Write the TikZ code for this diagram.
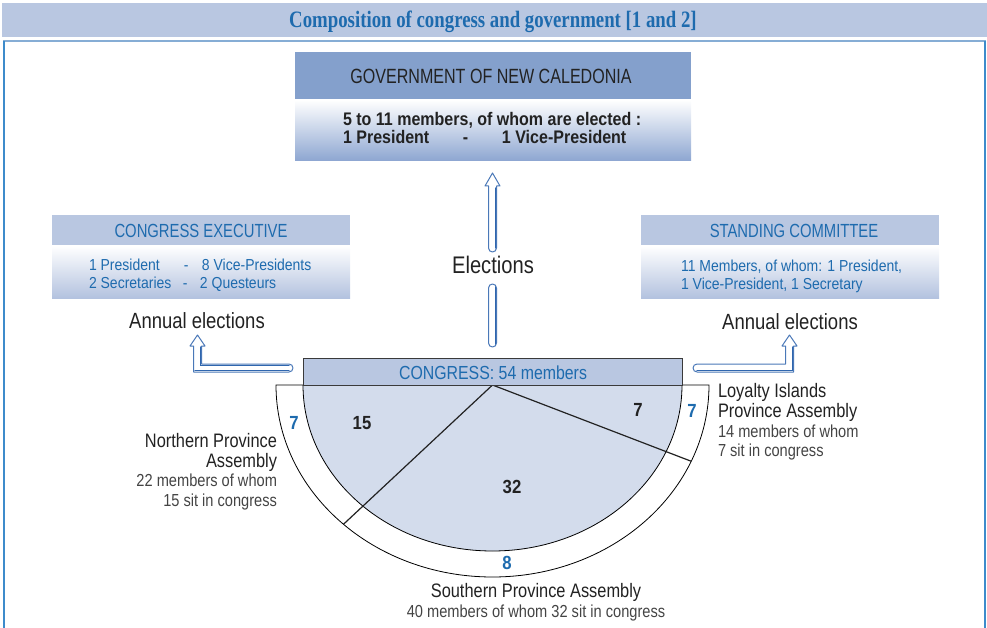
\documentclass[tikz,border=0pt]{standalone}
\usepackage{fontspec}
\setmainfont{Liberation Sans}
\newfontfamily\cnA{Liberation Sans}[FakeStretch=0.84]
\newfontfamily\cnB{Liberation Sans}[FakeStretch=0.78]
\newfontfamily\cnC{Liberation Sans}[FakeStretch=0.88]
\newfontfamily\cnT{Liberation Serif}[FakeStretch=0.8]
\usetikzlibrary{calc}
\newcommand\pxsize[1]{\fontsize{#1}{#1}\selectfont}

\definecolor{titlebar}{HTML}{B9C7E1}
\definecolor{govhead}{HTML}{84A0CC}
\definecolor{govbot}{HTML}{8DA6D1}
\definecolor{lightbar}{HTML}{B9C7E1}
\definecolor{execbot}{HTML}{B3C2DF}
\definecolor{innerfill}{HTML}{D3DCEC}
\definecolor{textblue}{HTML}{1E6BAE}
\definecolor{textdark}{HTML}{222222}
\definecolor{textgray}{HTML}{444444}
\definecolor{frameblue}{HTML}{3D8BCB}
\definecolor{frametop}{HTML}{86ADD5}
\definecolor{arrowline}{HTML}{4A78B8}
\definecolor{arrowdark}{HTML}{2F66AE}
\definecolor{bardark}{HTML}{3A3A3A}

\tikzset{
  txt/.style={inner sep=0pt, outer sep=0pt, text=textdark},
  headtxt/.style={txt, anchor=base, font=\cnB\pxsize{19}, text=textblue},
  bodytxt/.style={txt, anchor=base west, font=\cnC\pxsize{15.9}, text=textblue},
  bigtxt/.style={txt, font=\cnA\pxsize{22}},
  labtxt/.style={txt, font=\cnA\pxsize{19.5}},
  subtxt/.style={txt, font=\cnA\pxsize{17.4}, text=textgray},
  seatnum/.style={txt, anchor=base, font=\cnC\bfseries\pxsize{19}},
  ringnum/.style={seatnum, text=textblue},
  hollow/.style={fill=white, draw=arrowline, line width=1pt, line join=round},
  shadeline/.style={draw=arrowdark, line width=1.2pt, line cap=round},
  ringline/.style={draw=black, line width=0.8pt},
  spoke/.style={draw=textdark, line width=1.2pt},
  boxhead/.style={fill=lightbar, draw=none, inner sep=0pt, anchor=north west},
}

\begin{document}
\begin{tikzpicture}[x=1pt, y=1pt]
\useasboundingbox (0,-628) rectangle (987,0);

% title band and frame
\fill[titlebar] (2,-3) rectangle (987,-37);
\node[txt, anchor=base, font=\cnT\bfseries\pxsize{23.5}, text=textblue] (title) at (493,-28)
  {Composition of congress and government [1 and 2]};
\draw[frametop, line width=2pt] (3,-41) -- (986,-41);
\draw[frameblue, line width=2pt] (4.3,-41) -- (4.3,-628);
\draw[frameblue, line width=2pt] (985,-41) -- (985,-628);

% government box
\node[boxhead, fill=govhead, minimum width=396pt, minimum height=48pt] (govhead) at (295,-52) {};
\shade[top color=white, bottom color=govbot] (295,-100) rectangle (691,-161);
\node[txt, anchor=base, font=\cnB\pxsize{20.6}] (govtitle) at (491,-84) {GOVERNMENT OF NEW CALEDONIA};
\node[txt, anchor=base west, font=\cnC\bfseries\pxsize{18.2}] (govl1) at (343,-126)
  {5 to 11 members, of whom are elected :};
\node[txt, anchor=base west, font=\cnC\bfseries\pxsize{18.2}] (govl2) at (343,-144)
  {\makebox[120pt][l]{1 President}\makebox[39pt][l]{-}1 Vice-President};

% congress executive box
\node[boxhead, minimum width=298pt, minimum height=31pt] (exechead) at (52,-215) {};
\shade[top color=white, bottom color=execbot] (52,-246) rectangle (350,-298);
\node[headtxt] (exectitle) at (201,-238) {CONGRESS EXECUTIVE};
\node[bodytxt] (execl1) at (89,-270) {\makebox[95pt][l]{1 President}\makebox[18pt][l]{-}8 Vice-Presidents};
\node[bodytxt] (execl2) at (89,-288) {\makebox[94pt][l]{2 Secretaries}\makebox[17pt][l]{-}2 Questeurs};

% standing committee box
\node[boxhead, minimum width=298pt, minimum height=31pt] (standhead) at (641,-215) {};
\shade[top color=white, bottom color=execbot] (641,-246) rectangle (939,-298);
\node[headtxt] (standtitle) at (794,-238) {STANDING COMMITTEE};
\node[bodytxt] (standl1) at (681,-271) {11 Members, of whom: 1 President,};
\node[bodytxt] (standl2) at (681,-289) {1 Vice-President, 1 Secretary};

% election labels
\node[bigtxt, anchor=base, font=\cnA\pxsize{24}] (elections) at (493,-273) {Elections};
\node[bigtxt, anchor=base] (annualL) at (197,-328) {Annual elections};
\node[bigtxt, anchor=base] (annualR) at (790,-329) {Annual elections};

% hollow arrows
\draw[hollow] (488.5,-248) -- (488.5,-186) -- (485,-186) -- (492.5,-173) -- (500,-186)
  -- (496.5,-186) -- (496.5,-248) arc[start angle=0, end angle=-180, radius=4pt] -- cycle;
\draw[shadeline] (495.2,-188) -- (495.2,-248);
\draw[hollow, rounded corners=4pt] (488.5,-284) rectangle (496.5,-347);
\draw[shadeline] (495.2,-287) -- (495.2,-344);

\draw[hollow] (289,-364) -- (201.5,-364) -- (201.5,-346) -- (205,-346) -- (197.5,-335)
  -- (190,-346) -- (193.5,-346) -- (193.5,-372) -- (289,-372)
  arc[start angle=-90, end angle=90, radius=4pt] -- cycle;
\draw[shadeline] (200.2,-347) -- (200.2,-365.3) -- (289,-365.3);
\draw[shadeline] (195,-370.7) -- (289,-370.7);

\draw[hollow] (697,-364) -- (785.5,-364) -- (785.5,-346) -- (782,-346) -- (789.5,-335)
  -- (797,-346) -- (793.5,-346) -- (793.5,-372) -- (697,-372)
  arc[start angle=270, end angle=90, radius=4pt] -- cycle;
\draw[shadeline] (792.2,-347) -- (792.2,-370.7) -- (697,-370.7);

% congress half-ring
\coordinate (C) at (492.5,-385);
\draw[ringline, fill=white] (276,-385) arc[start angle=180, end angle=360, x radius=216.5pt, y radius=192pt] -- cycle;
\fill[innerfill] (303,-385) arc[start angle=180, end angle=360, x radius=189.5pt, y radius=166pt] -- cycle;
\draw[ringline] (303,-385) arc[start angle=180, end angle=360, x radius=189.5pt, y radius=166pt];
\coordinate (northEnd) at ($(C)+(226.5:216.5pt and 192pt)$);
\coordinate (loyaltyEnd) at ($(C)+(336.6:216.5pt and 192pt)$);
\draw[spoke] (C) -- (northEnd);
\draw[spoke] (C) -- (loyaltyEnd);

\node[boxhead, draw=bardark, line width=0.9pt, minimum width=379pt, minimum height=27pt] (congress) at (303,-358) {};
\node[txt, anchor=base, font=\cnA\pxsize{18.9}, text=textblue] (congresstxt) at (493,-379) {CONGRESS: 54 members};

% seat numbers
\node[seatnum] (n15) at (362,-429) {15};
\node[seatnum] (n7) at (638,-416) {7};
\node[seatnum] (n32) at (512,-493) {32};
\node[ringnum] (r7l) at (294,-429) {7};
\node[ringnum] (r7r) at (692,-417) {7};
\node[ringnum] (r8) at (507,-569) {8};

% province labels
\node[labtxt, anchor=base east] (north1) at (277,-447) {Northern Province};
\node[labtxt, anchor=base east] (north2) at (277,-467) {Assembly};
\node[subtxt, anchor=base east] (north3) at (277,-486) {22 members of whom};
\node[subtxt, anchor=base east] (north4) at (277,-506) {15 sit in congress};

\node[labtxt, anchor=base west] (loy1) at (718,-397) {Loyalty Islands};
\node[labtxt, anchor=base west] (loy2) at (718,-417) {Province Assembly};
\node[subtxt, anchor=base west] (loy3) at (718,-437) {14 members of whom};
\node[subtxt, anchor=base west] (loy4) at (718,-456) {7 sit in congress};

\node[labtxt, anchor=base] (south1) at (536,-597) {Southern Province Assembly};
\node[subtxt, anchor=base] (south2) at (536,-617) {40 members of whom 32 sit in congress};
\end{tikzpicture}
\end{document}
